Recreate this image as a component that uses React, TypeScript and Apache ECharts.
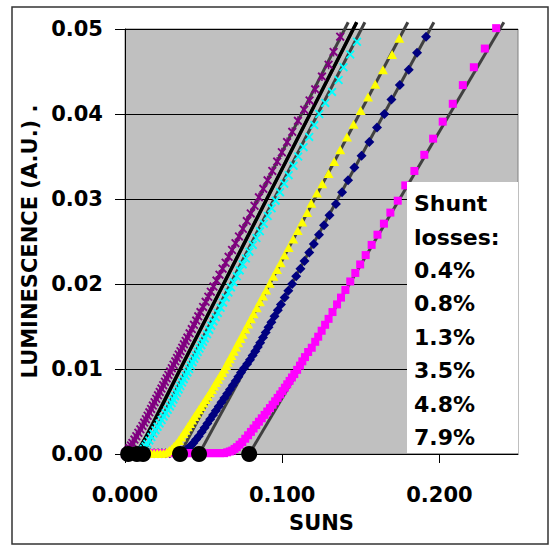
import React, { useEffect, useRef } from "react";
import * as echarts from "echarts";

// ---- data ----
const X_TICKS = [0, 0.1, 0.2];
const SHUNT_LABELS = ["0.4%", "0.8%", "1.3%", "3.5%", "4.8%", "7.9%"];

// x-intercepts (black dots) and top ends of the straight fit lines
const INTERCEPTS = [0.002, 0.0076, 0.0115, 0.035, 0.0471, 0.079];
const FIT_TOP_X = [0.142, 0.1474, 0.1526, 0.1799, 0.1965, 0.241];
const FIT_TOP_Y = 0.0508;

// 0.8% curve drawn as a plain black line
const blackLine = [
  [0.005, 0.0], [0.0085, 0.0005], [0.0112, 0.0013], [0.014, 0.0022], [0.018, 0.0036],
  [0.0352, 0.01], [0.0627, 0.02], [0.0902, 0.03], [0.1177, 0.04], [0.1474, 0.0508],
];

// 0.4% (purple stars)
const purpleData = [
  [0.1369, 0.0491], [0.1327, 0.0473], [0.1295, 0.0458], [0.1253, 0.0444], [0.121, 0.0429],
  [0.1174, 0.0416], [0.114, 0.0405], [0.11, 0.0392], [0.1064, 0.0379], [0.1031, 0.0367],
  [0.0998, 0.0355], [0.0968, 0.0344], [0.0937, 0.0333], [0.0907, 0.0322], [0.088, 0.0312],
  [0.0852, 0.0302], [0.0824, 0.0292], [0.08, 0.0283], [0.0775, 0.0274], [0.075, 0.0265],
  [0.0725, 0.0256], [0.0703, 0.0248], [0.0681, 0.024], [0.0659, 0.0232], [0.064, 0.0225],
  [0.0621, 0.0218], [0.0601, 0.0211], [0.0582, 0.0204], [0.0563, 0.0197], [0.0546, 0.0191],
  [0.053, 0.0185], [0.0513, 0.0179], [0.0497, 0.0173], [0.048, 0.0167], [0.0466, 0.0162],
  [0.0453, 0.0157], [0.0439, 0.0152], [0.0425, 0.0147], [0.0411, 0.0142], [0.0397, 0.0137],
  [0.0386, 0.0133], [0.0375, 0.0129], [0.0364, 0.0125], [0.0353, 0.0121], [0.0342, 0.0117],
  [0.0331, 0.0113], [0.032, 0.0109], [0.0309, 0.0105], [0.0298, 0.0101], [0.0287, 0.0097],
  [0.0276, 0.0093], [0.0265, 0.0089], [0.0254, 0.0085], [0.0243, 0.0081], [0.0232, 0.0077],
  [0.0221, 0.0073], [0.021, 0.0069], [0.0199, 0.0065], [0.0188, 0.0061], [0.0177, 0.0057],
  [0.0166, 0.0053], [0.0155, 0.0049], [0.0144, 0.0045], [0.0133, 0.0041], [0.0122, 0.0037],
  [0.0111, 0.0033], [0.0098, 0.0029], [0.0085, 0.0025], [0.0072, 0.0021], [0.006, 0.0017],
  [0.0047, 0.0013], [0.0038, 0.001], [0.0028, 0.0007], [0.0018, 0.0004], [0.001, 0.0002],
  [0.0004, 0.0001], [0.0, 0.0],
];

// 1.3% (cyan crosses)
const cyanData = [
  [0.1476, 0.0485], [0.1433, 0.047], [0.139, 0.0455], [0.1359, 0.044], [0.1317, 0.0426],
  [0.1274, 0.0413], [0.1236, 0.04], [0.1204, 0.0387], [0.1172, 0.0373], [0.1136, 0.0361],
  [0.1102, 0.035], [0.1072, 0.0339], [0.1041, 0.0328], [0.1013, 0.0318], [0.0986, 0.0308],
  [0.0958, 0.0298], [0.0933, 0.0289], [0.0908, 0.028], [0.0883, 0.0271], [0.0858, 0.0262],
  [0.0836, 0.0254], [0.0813, 0.0246], [0.0791, 0.0238], [0.0769, 0.023], [0.0749, 0.0223],
  [0.073, 0.0216], [0.0711, 0.0209], [0.0691, 0.0202], [0.0674, 0.0196], [0.0658, 0.019],
  [0.0641, 0.0184], [0.0624, 0.0178], [0.0608, 0.0172], [0.0591, 0.0166], [0.0577, 0.0161],
  [0.0563, 0.0156], [0.0549, 0.0151], [0.0536, 0.0146], [0.0522, 0.0141], [0.0508, 0.0136],
  [0.0497, 0.0132], [0.0486, 0.0128], [0.0474, 0.0124], [0.0463, 0.012], [0.0452, 0.0116],
  [0.0441, 0.0112], [0.043, 0.0108], [0.0419, 0.0104], [0.0408, 0.01], [0.0397, 0.0096],
  [0.0386, 0.0092], [0.0374, 0.0088], [0.0363, 0.0084], [0.0352, 0.008], [0.0341, 0.0076],
  [0.033, 0.0072], [0.0319, 0.0068], [0.0308, 0.0064], [0.0297, 0.006], [0.0286, 0.0056],
  [0.0272, 0.0052], [0.0259, 0.0048], [0.0246, 0.0044], [0.0233, 0.004], [0.022, 0.0036],
  [0.0207, 0.0032], [0.0194, 0.0028], [0.0181, 0.0024], [0.0168, 0.002], [0.0155, 0.0016],
  [0.0142, 0.0012], [0.0131, 0.0009], [0.012, 0.0006], [0.011, 0.0004], [0.0098, 0.0002],
  [0.0086, 0.0001], [0.0072, 0.0], [0.0058, 0.0],
];

// 3.5% (yellow triangles)
const yellowData = [
  [0.1745, 0.0489], [0.1699, 0.047], [0.1641, 0.0452], [0.1592, 0.0435], [0.1546, 0.042],
  [0.1499, 0.0404], [0.1454, 0.0388], [0.1412, 0.0373], [0.1369, 0.0358], [0.1331, 0.0344],
  [0.1295, 0.033], [0.1255, 0.0318], [0.1221, 0.0307], [0.1185, 0.0295], [0.1159, 0.0284],
  [0.1127, 0.0273], [0.1099, 0.0263], [0.107, 0.0253], [0.1041, 0.0243], [0.1015, 0.0234],
  [0.099, 0.0225], [0.0967, 0.0217], [0.0944, 0.0209], [0.0921, 0.0201], [0.0898, 0.0193],
  [0.0878, 0.0186], [0.0858, 0.0179], [0.0838, 0.0172], [0.0818, 0.0165], [0.0801, 0.0159],
  [0.0783, 0.0153], [0.0766, 0.0147], [0.0749, 0.0141], [0.0735, 0.0136], [0.072, 0.0131],
  [0.0706, 0.0126], [0.0692, 0.0121], [0.0677, 0.0116], [0.0666, 0.0112], [0.0654, 0.0108],
  [0.0643, 0.0104], [0.0632, 0.01], [0.0618, 0.0096], [0.0605, 0.0092], [0.0592, 0.0088],
  [0.0579, 0.0084], [0.0566, 0.008], [0.0553, 0.0076], [0.054, 0.0072], [0.0526, 0.0068],
  [0.0512, 0.0064], [0.0498, 0.006], [0.0484, 0.0056], [0.047, 0.0052], [0.0456, 0.0048],
  [0.0442, 0.0044], [0.0428, 0.004], [0.0414, 0.0036], [0.04, 0.0032], [0.0386, 0.0028],
  [0.0372, 0.0024], [0.0358, 0.002], [0.0343, 0.0016], [0.0327, 0.0012], [0.0312, 0.0009],
  [0.0297, 0.0006], [0.0282, 0.0004], [0.0265, 0.0002], [0.0245, 0.0001], [0.0225, 0.0001],
  [0.0205, 0.0001], [0.0185, 0.0001], [0.0165, 0.0001],
];

// 4.8% (navy diamonds)
const navyData = [
  [0.1915, 0.0491], [0.1858, 0.0472], [0.1805, 0.0452], [0.1748, 0.0434], [0.1695, 0.0417],
  [0.165, 0.04], [0.1603, 0.0384], [0.1554, 0.0367], [0.1505, 0.0351], [0.1459, 0.0337],
  [0.1419, 0.0322], [0.1381, 0.0308], [0.1342, 0.0294], [0.1301, 0.0281], [0.1266, 0.0269],
  [0.1234, 0.0258], [0.1201, 0.0247], [0.1172, 0.0237], [0.1142, 0.0227], [0.1116, 0.0218],
  [0.1089, 0.0209], [0.1063, 0.02], [0.1039, 0.0192], [0.1016, 0.0184], [0.0992, 0.0176],
  [0.0972, 0.0169], [0.0951, 0.0162], [0.0931, 0.0155], [0.0913, 0.0149], [0.0895, 0.0143],
  [0.0878, 0.0137], [0.086, 0.0131], [0.0845, 0.0126], [0.0829, 0.0121], [0.0812, 0.0116],
  [0.0795, 0.0111], [0.0777, 0.0106], [0.0757, 0.0101], [0.0738, 0.0096], [0.0721, 0.0091],
  [0.0704, 0.0086], [0.0686, 0.0081], [0.0668, 0.0076], [0.065, 0.0071], [0.0632, 0.0066],
  [0.0614, 0.0061], [0.0596, 0.0056], [0.0578, 0.0051], [0.056, 0.0046], [0.0542, 0.0041],
  [0.0524, 0.0036], [0.0506, 0.0031], [0.0488, 0.0026], [0.0469, 0.0021], [0.0452, 0.0017],
  [0.0435, 0.0013], [0.042, 0.001], [0.0404, 0.0007], [0.039, 0.0005], [0.0374, 0.0003],
  [0.0356, 0.0002], [0.0335, 0.0001], [0.031, 0.0001], [0.0285, 0.0001], [0.026, 0.0001],
  [0.0235, 0.0001], [0.021, 0.0001], [0.0185, 0.0001], [0.016, 0.0001], [0.0135, 0.0001],
  [0.011, 0.0001],
];

// 7.9% (magenta squares)
const magentaData = [
  [0.2361, 0.0501], [0.2289, 0.0477], [0.2219, 0.0455], [0.2149, 0.0434], [0.2085, 0.0412],
  [0.2021, 0.0391], [0.196, 0.0371], [0.1904, 0.0352], [0.1841, 0.0333], [0.1783, 0.0316],
  [0.1735, 0.0298], [0.1688, 0.0284], [0.1647, 0.0271], [0.1606, 0.0258], [0.1569, 0.0246],
  [0.1531, 0.0234], [0.1496, 0.0223], [0.1465, 0.0213], [0.1433, 0.0203], [0.1402, 0.0193],
  [0.1374, 0.0184], [0.1349, 0.0176], [0.132, 0.0167], [0.1295, 0.0159], [0.1273, 0.0152],
  [0.1251, 0.0145], [0.1229, 0.0138], [0.121, 0.0132], [0.1188, 0.0125], [0.1165, 0.012],
  [0.1145, 0.0114], [0.1128, 0.0109], [0.1113, 0.0104], [0.1095, 0.0099], [0.1077, 0.0094],
  [0.1062, 0.009], [0.1047, 0.0086], [0.1032, 0.0082], [0.1017, 0.0078], [0.1002, 0.0074],
  [0.0987, 0.007], [0.0971, 0.0066], [0.0955, 0.0062], [0.0939, 0.0058], [0.0922, 0.0054],
  [0.0905, 0.005], [0.0888, 0.0046], [0.087, 0.0042], [0.0852, 0.0038], [0.0835, 0.0034],
  [0.0818, 0.003], [0.0801, 0.0026], [0.0783, 0.0022], [0.0765, 0.0018], [0.0746, 0.0014],
  [0.0729, 0.0011], [0.0712, 0.0008], [0.0697, 0.0006], [0.0682, 0.0004], [0.0667, 0.0003],
  [0.065, 0.0002], [0.063, 0.0001], [0.0605, 0.0001], [0.058, 0.0001], [0.0555, 0.0001],
  [0.053, 0.0001], [0.0505, 0.0001], [0.048, 0.0001], [0.0455, 0.0001], [0.043, 0.0001],
  [0.0405, 0.0001], [0.038, 0.0001], [0.0355, 0.0001], [0.033, 0.0001], [0.0305, 0.0001],
  [0.028, 0.0001], [0.0255, 0.0001], [0.023, 0.0001], [0.0205, 0.0001], [0.018, 0.0001],
  [0.0155, 0.0001], [0.013, 0.0001], [0.0105, 0.0001], [0.008, 0.0001], [0.0055, 0.0001],
  [0.003, 0.0001], [0.0005, 0.0001],
];

const FONT = '"DejaVu Sans", Verdana, sans-serif';
const CROSS = "path://M0,1.5L1.5,0L10,8.5L8.5,10Z M8.5,0L10,1.5L1.5,10L0,8.5Z";
const STAR = CROSS + " M4.2,0L5.8,0L5.8,10L4.2,10Z";

export default function App() {
  const ref = useRef<HTMLDivElement>(null);

  useEffect(() => {
    const chart = echarts.init(ref.current as HTMLDivElement, null, { renderer: "svg" });

    const fitSeries = INTERCEPTS.map((x0, i) => ({
      type: "line",
      data: [[x0, 0], [FIT_TOP_X[i], FIT_TOP_Y]],
      symbol: "none",
      showSymbol: false,
      clip: false,
      silent: true,
      lineStyle: { color: "#404040", width: 3 },
      z: 2,
    }));

    const scatter = (data: number[][], symbol: string, size: any, color: string) => ({
      type: "scatter",
      data,
      symbol,
      symbolSize: size,
      silent: true,
      clip: false,
      itemStyle: { color, opacity: 1 },
      z: 3,
    });

    const labelFont = { fontFamily: FONT, fontWeight: "bold" as const, fontSize: 21, color: "#000" };

    chart.setOption({
      animation: false,
      backgroundColor: "#ffffff",
      grid: {
        left: 125,
        right: 35,
        top: 29,
        bottom: 92,
        show: true,
        backgroundColor: "#C0C0C0",
        borderColor: "#808080",
        borderWidth: 1,
      },
      xAxis: {
        type: "value",
        min: 0,
        max: 0.25,
        interval: 0.1,
        name: "SUNS",
        nameLocation: "middle",
        nameGap: 58,
        nameTextStyle: { ...labelFont },
        axisLine: { show: true, onZero: false, lineStyle: { color: "#000", width: 1 } },
        axisTick: { show: true, length: 9, customValues: X_TICKS, lineStyle: { color: "#000" } },
        axisLabel: {
          ...labelFont,
          margin: 30,
          customValues: X_TICKS,
          formatter: (v: number) => (v > 0.21 ? "" : v.toFixed(3)),
        },
        splitLine: { show: false },
      },
      yAxis: {
        type: "value",
        min: 0,
        max: 0.05,
        interval: 0.01,
        name: "LUMINESCENCE (A.U.) .",
        nameLocation: "middle",
        nameRotate: 90,
        nameGap: 81,
        nameTextStyle: { ...labelFont },
        axisLine: { show: true, lineStyle: { color: "#000", width: 1 } },
        axisTick: { show: true, length: 10, lineStyle: { color: "#000" } },
        axisLabel: { ...labelFont, margin: 22, formatter: (v: number) => v.toFixed(2) },
        splitLine: { show: true, lineStyle: { color: "#000", width: 1 } },
      },
      series: [
        ...fitSeries,
        {
          type: "line",
          data: blackLine,
          symbol: "none",
          showSymbol: false,
          clip: false,
          silent: true,
          lineStyle: { color: "#000", width: 3.5 },
          z: 2,
        },
        scatter(navyData, "diamond", 10, "#000080"),
        scatter(magentaData, "rect", 8, "#FF00FF"),
        scatter(yellowData, "triangle", [10, 9], "#FFFF00"),
        scatter(cyanData, CROSS, 9, "#00FFFF"),
        scatter(purpleData, STAR, 9, "#800080"),
        {
          type: "scatter",
          data: INTERCEPTS.map((x) => [x, 0]),
          symbol: "circle",
          symbolSize: 16,
          silent: true,
          clip: false,
          itemStyle: { color: "#000", opacity: 1 },
          z: 4,
        },
      ],
      graphic: [
        {
          type: "rect",
          shape: { x: 12, y: 7, width: 536, height: 537 },
          style: { fill: "none", stroke: "#333", lineWidth: 1.5 },
          z: 100,
          silent: true,
        },
        {
          type: "rect",
          shape: { x: 407, y: 182, width: 111, height: 271 },
          style: { fill: "#ffffff" },
          z: 100,
          silent: true,
        },
        {
          type: "text",
          x: 414,
          y: 187,
          z: 101,
          silent: true,
          style: {
            text: ["Shunt", "losses:", ...SHUNT_LABELS].join("\n"),
            fill: "#000",
            fontFamily: FONT,
            fontWeight: "bold",
            fontSize: 22,
            lineHeight: 33.4,
            verticalAlign: "top",
          },
        },
      ],
    });

    return () => chart.dispose();
  }, []);

  return (
    <div
      ref={ref}
      style={{ position: "absolute", left: 0, top: 0, width: 553, height: 546 }}
    />
  );
}
